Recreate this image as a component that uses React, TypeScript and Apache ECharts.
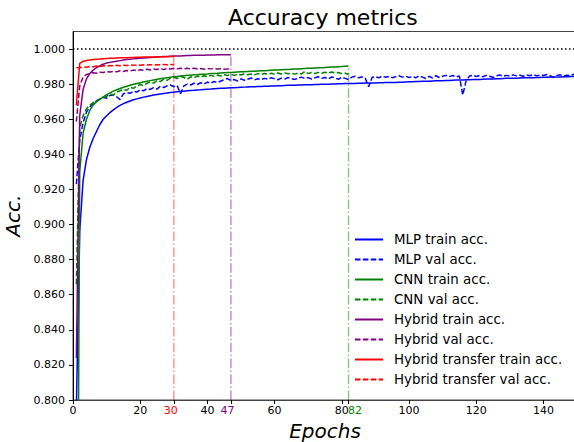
import React, { useEffect, useRef } from "react";
import * as echarts from "echarts";

const mlpTrain = [
  0.795, 0.896, 0.925, 0.937, 0.944, 0.949, 0.953, 0.957, 0.960, 0.962,
  0.9638, 0.9653, 0.9667, 0.9679, 0.9689, 0.9697, 0.9704, 0.9711, 0.9716, 0.9721,
  0.9726, 0.9730, 0.9734, 0.9738, 0.9741, 0.9744, 0.9747, 0.9749, 0.9752, 0.9754,
  0.9756, 0.9758, 0.9760, 0.9762, 0.9764, 0.9765, 0.9767, 0.9768, 0.9770, 0.9771,
  0.9772, 0.9774, 0.9775, 0.9776, 0.9777, 0.9778, 0.9779, 0.9780, 0.9781, 0.9782,
  0.9783, 0.9784, 0.9785, 0.9785, 0.9786, 0.9787, 0.9788, 0.9788, 0.9789, 0.9790,
  0.9791, 0.9791, 0.9792, 0.9793, 0.9793, 0.9794, 0.9795, 0.9795, 0.9796, 0.9797,
  0.9797, 0.9798, 0.9798, 0.9799, 0.9800, 0.9800, 0.9801, 0.9801, 0.9802, 0.9802,
  0.9803, 0.9803, 0.9804, 0.9804, 0.9805, 0.9805, 0.9806, 0.9806, 0.9807, 0.9807,
  0.9808, 0.9808, 0.9809, 0.9809, 0.9810, 0.9810, 0.9811, 0.9811, 0.9812, 0.9813,
  0.9814, 0.9815, 0.9815, 0.9816, 0.9817, 0.9817, 0.9818, 0.9819, 0.9819, 0.9820,
  0.9821, 0.9821, 0.9822, 0.9823, 0.9823, 0.9824, 0.9825, 0.9825, 0.9826, 0.9827,
  0.9827, 0.9828, 0.9829, 0.9829, 0.9830, 0.9831, 0.9831, 0.9832, 0.9833, 0.9833,
  0.9834, 0.9834, 0.9835, 0.9836, 0.9836, 0.9837, 0.9837, 0.9838, 0.9838, 0.9839,
  0.9839, 0.9840, 0.9840, 0.9841, 0.9841, 0.9842, 0.9842, 0.9843, 0.9843, 0.9844,
];

const mlpVal = [
  0.923, 0.948, 0.958, 0.964, 0.967, 0.969, 0.9705, 0.9713, 0.9725, 0.9720,
  0.9735, 0.9740, 0.9728, 0.9712, 0.9745, 0.9752, 0.9748, 0.9760, 0.9755, 0.9768,
  0.9762, 0.9775, 0.9770, 0.9780, 0.9772, 0.9788, 0.9781, 0.9790, 0.9795, 0.9785,
  0.9792, 0.9746, 0.9790, 0.9800, 0.9795, 0.9805, 0.9798, 0.9808, 0.9800, 0.9812,
  0.9805, 0.9815, 0.9808, 0.9818, 0.9825, 0.9832, 0.9820, 0.9826, 0.9818, 0.9830,
  0.9822, 0.9828, 0.9835, 0.9824, 0.9831, 0.9826, 0.9833, 0.9828, 0.9836, 0.9830,
  0.9825, 0.9834, 0.9829, 0.9838, 0.9831, 0.9827, 0.9835, 0.9840, 0.9832, 0.9837,
  0.9829, 0.9836, 0.9842, 0.9833, 0.9838, 0.9830, 0.9841, 0.9835, 0.9828, 0.9839,
  0.9833, 0.9826, 0.9840, 0.9845, 0.9836, 0.9841, 0.9833, 0.9785, 0.9838, 0.9843,
  0.9836, 0.9846, 0.9839, 0.9844, 0.9837, 0.9842, 0.9848, 0.9840, 0.9845, 0.9838,
  0.9843, 0.9836, 0.9847, 0.9840, 0.9832, 0.9844, 0.9835, 0.9848, 0.9838, 0.9845,
  0.9850, 0.9843, 0.9849, 0.9841, 0.9846, 0.9738, 0.9820, 0.9846, 0.9851, 0.9844,
  0.9849, 0.9842, 0.9850, 0.9845, 0.9838, 0.9848, 0.9852, 0.9845, 0.9850, 0.9846,
  0.9853, 0.9847, 0.9851, 0.9845, 0.9852, 0.9848, 0.9854, 0.9847, 0.9852, 0.9849,
  0.9855, 0.9848, 0.9838, 0.9850, 0.9853, 0.9846, 0.9851, 0.9848, 0.9856, 0.9852,
];

const cnnTrain = [
  0.55, 0.930, 0.952, 0.960, 0.965, 0.968, 0.970, 0.9715, 0.9728, 0.9740,
  0.9750, 0.9760, 0.9768, 0.9775, 0.9782, 0.9788, 0.9794, 0.9799, 0.9804, 0.9808,
  0.9812, 0.9816, 0.9820, 0.9824, 0.9828, 0.9831, 0.9834, 0.9837, 0.9840, 0.9842,
  0.9844, 0.9846, 0.9848, 0.9850, 0.9851, 0.9853, 0.9854, 0.9856, 0.9857, 0.9858,
  0.9860, 0.9861, 0.9862, 0.9864, 0.9865, 0.9866, 0.9867, 0.9868, 0.9869, 0.9870,
  0.9871, 0.9872, 0.9873, 0.9874, 0.9875, 0.9876, 0.9877, 0.9878, 0.9879, 0.9880,
  0.9881, 0.9882, 0.9883, 0.9884, 0.9885, 0.9886, 0.9887, 0.9888, 0.9889, 0.9890,
  0.9891, 0.9892, 0.9893, 0.9894, 0.9895, 0.9896, 0.9897, 0.9898, 0.9899, 0.9900,
  0.9902, 0.9904,
];

const cnnVal = [
  0.866, 0.955, 0.962, 0.966, 0.968, 0.9695, 0.9705, 0.9715, 0.9722, 0.9730,
  0.9745, 0.9738, 0.9755, 0.9762, 0.9770, 0.9765, 0.9782, 0.9776, 0.9790, 0.9798,
  0.9792, 0.9805, 0.9812, 0.9806, 0.9820, 0.9815, 0.9828, 0.9822, 0.9835, 0.9840,
  0.9832, 0.9845, 0.9838, 0.9828, 0.9842, 0.9836, 0.9846, 0.9840, 0.9848, 0.9843,
  0.9850, 0.9845, 0.9852, 0.9846, 0.9854, 0.9849, 0.9856, 0.9850, 0.9857, 0.9852,
  0.9859, 0.9853, 0.9858, 0.9853, 0.9860, 0.9855, 0.9861, 0.9856, 0.9862, 0.9857,
  0.9863, 0.9858, 0.9864, 0.9859, 0.9862, 0.9857, 0.9863, 0.9858, 0.9872, 0.9860,
  0.9866, 0.9861, 0.9867, 0.9862, 0.9868, 0.9863, 0.9869, 0.9864, 0.9866, 0.9860,
  0.9862, 0.9856,
];

const hybridTrain = [
  0.824, 0.962, 0.977, 0.983, 0.986, 0.988, 0.9895, 0.9905, 0.9913, 0.9920,
  0.9924, 0.9928, 0.9931, 0.9934, 0.9937, 0.9940, 0.9942, 0.9944, 0.9946, 0.9948,
  0.9949, 0.9951, 0.9952, 0.9953, 0.9955, 0.9956, 0.9957, 0.9958, 0.9959, 0.9960,
  0.9961, 0.9961, 0.9962, 0.9963, 0.9963, 0.9964, 0.9964, 0.9965, 0.9965, 0.9966,
  0.9966, 0.9966, 0.9967, 0.9967, 0.9967, 0.9968, 0.9968,
];

const hybridVal = [
  0.9586, 0.979, 0.984, 0.9855, 0.9860, 0.9865, 0.9862, 0.9868, 0.9866, 0.9871,
  0.9869, 0.9873, 0.9870, 0.9876, 0.9872, 0.9878, 0.9875, 0.9880, 0.9876, 0.9882,
  0.9879, 0.9885, 0.9881, 0.9886, 0.9883, 0.9888, 0.9884, 0.9889, 0.9886, 0.9890,
  0.9887, 0.9891, 0.9888, 0.9890, 0.9887, 0.9891, 0.9886, 0.9889, 0.9885, 0.9890,
  0.9887, 0.9889, 0.9886, 0.9888, 0.9885, 0.9887, 0.9884,
];

const transferTrain = [
  0.968, 0.9918, 0.9930, 0.9935, 0.9938, 0.9940, 0.9942, 0.9943, 0.9945, 0.9946,
  0.9947, 0.9948, 0.9949, 0.9950, 0.9950, 0.9951, 0.9952, 0.9952, 0.9953, 0.9953,
  0.9954, 0.9954, 0.9955, 0.9955, 0.9955, 0.9956, 0.9956, 0.9956, 0.9957, 0.9957,
];

const transferVal = [
  0.9893, 0.9895, 0.9898, 0.9896, 0.9901, 0.9899, 0.9903, 0.9901, 0.9905, 0.9903,
  0.9906, 0.9904, 0.9907, 0.9905, 0.9908, 0.9906, 0.9909, 0.9907, 0.9910, 0.9908,
  0.9910, 0.9909, 0.9911, 0.9909, 0.9911, 0.9910, 0.9912, 0.9910, 0.9912, 0.9911,
];

const xTicks = [0, 20, 30, 40, 47, 60, 80, 82, 100, 120, 140];
const yTicks = [0.8, 0.82, 0.84, 0.86, 0.88, 0.9, 0.92, 0.94, 0.96, 0.98, 1.0];
const X_MIN = 0;
const X_MAX = 150;
const Y_MIN = 0.8;
const Y_MAX = 1.01;
const REF_LEVEL = 1.0;

const FONT = "DejaVu Sans";

const toPts = (arr: number[]) => arr.map((v, i) => [i + 1, v]);

const solid = (name: string, color: string, data: number[]) => ({
  name,
  type: "line",
  data: toPts(data),
  symbol: "none",
  showSymbol: false,
  lineStyle: { color, width: 1.5, type: "solid" },
  itemStyle: { color },
  z: 3,
});

const dashed = (name: string, color: string, data: number[]) => ({
  name,
  type: "line",
  data: toPts(data),
  symbol: "none",
  showSymbol: false,
  lineStyle: { color, width: 1.5, type: [5.5, 2.4] },
  itemStyle: { color },
  z: 3,
});

const vline = (x: number, top: number, color: string) => ({
  type: "line",
  data: [
    [x, Y_MIN],
    [x, top],
  ],
  symbol: "none",
  silent: true,
  lineStyle: { color, width: 1.5, type: [9.6, 2.4, 1.5, 2.4] },
  z: 2,
});

export default function App() {
  const ref = useRef<HTMLDivElement>(null);
  useEffect(() => {
    if (!ref.current) return;
    const chart = echarts.init(ref.current, undefined, { renderer: "svg" });
    const legendNames = [
      "MLP train acc.",
      "MLP val acc.",
      "CNN train acc.",
      "CNN val acc.",
      "Hybrid train acc.",
      "Hybrid val acc.",
      "Hybrid transfer train acc.",
      "Hybrid transfer val acc.",
    ];
    const tEnd = transferTrain.length;
    const hEnd = hybridTrain.length;
    const cEnd = cnnTrain.length;
    chart.setOption({
      animation: false,
      backgroundColor: "#ffffff",
      title: {
        text: "Accuracy metrics",
        left: 228,
        top: 6,
        padding: 0,
        textStyle: { fontFamily: FONT, fontSize: 22, fontWeight: "normal", color: "#000" },
      },
      grid: {
        left: 73,
        right: -3,
        top: 31.5,
        bottom: 42,
        outerBoundsMode: "none",
        containLabel: false,
        show: true,
        borderColor: "#444",
        borderWidth: 1,
        backgroundColor: "transparent",
      },
      legend: {
        data: legendNames,
        orient: "vertical",
        left: 354,
        top: 233,
        itemWidth: 28,
        itemHeight: 13,
        itemGap: 7,
        padding: 0,
        itemStyle: { opacity: 0 },
        textStyle: { fontFamily: FONT, fontSize: 13.4, color: "#000", padding: [0, 0, 0, 6] },
      },
      xAxis: {
        type: "value",
        min: X_MIN,
        max: X_MAX,
        name: "Epochs",
        nameLocation: "middle",
        nameGap: 19,
        nameTextStyle: { fontFamily: FONT, fontSize: 20, fontStyle: "italic", color: "#000" },
        splitLine: { show: false },
        axisLine: { show: true, lineStyle: { color: "#444", width: 1.2 } },
        axisTick: { show: true, length: 4, customValues: xTicks, lineStyle: { color: "#000" } },
        axisLabel: {
          customValues: xTicks,
          margin: 5,
          fontFamily: FONT,
          fontSize: 11,
          color: "#000",
          formatter: (v: number) => {
            if (v === tEnd) return `{r|${v}}`;
            if (v === hEnd) return `{p|${v}}`;
            if (v === cEnd) return `{g|${v}}`;
            return `{n|${v}}`;
          },
          rich: {
            n: { fontFamily: FONT, fontSize: 11, color: "#000" },
            r: { fontFamily: FONT, fontSize: 11, color: "#ff0000", padding: [0, 6, 0, 0] },
            p: { fontFamily: FONT, fontSize: 11, color: "#800080", padding: [0, 7, 0, 0] },
            g: { fontFamily: FONT, fontSize: 11, color: "#008000", padding: [0, 0, 0, 13] },
          },
        },
      },
      yAxis: {
        type: "value",
        min: Y_MIN,
        max: Y_MAX,
        name: "Acc.",
        nameLocation: "middle",
        nameGap: 46,
        nameTextStyle: { fontFamily: FONT, fontSize: 20, fontStyle: "italic", color: "#000" },
        splitLine: { show: false },
        axisLine: { show: true, lineStyle: { color: "#000", width: 1 } },
        axisTick: { show: true, length: 4, customValues: yTicks, lineStyle: { color: "#000" } },
        axisLabel: {
          customValues: yTicks,
          margin: 8,
          fontFamily: FONT,
          fontSize: 11,
          color: "#000",
          formatter: (v: number) => v.toFixed(3),
        },
      },
      series: [
        {
          name: "ref",
          type: "line",
          data: [
            [X_MIN, REF_LEVEL],
            [X_MAX, REF_LEVEL],
          ],
          symbol: "none",
          silent: true,
          lineStyle: { color: "#000", width: 1.5, type: [1.5, 2.5] },
          z: 2,
        },
        solid("MLP train acc.", "#0000ff", mlpTrain),
        dashed("MLP val acc.", "#0000ff", mlpVal),
        solid("CNN train acc.", "#008000", cnnTrain),
        dashed("CNN val acc.", "#008000", cnnVal),
        solid("Hybrid train acc.", "#800080", hybridTrain),
        dashed("Hybrid val acc.", "#800080", hybridVal),
        solid("Hybrid transfer train acc.", "#ff0000", transferTrain),
        dashed("Hybrid transfer val acc.", "#ff0000", transferVal),
        vline(tEnd, transferTrain[tEnd - 1], "rgba(255,0,0,0.42)"),
        vline(hEnd, hybridTrain[hEnd - 1], "rgba(128,0,128,0.45)"),
        vline(cEnd, cnnTrain[cEnd - 1], "rgba(0,128,0,0.45)"),
      ],
    });
    return () => chart.dispose();
  }, []);
  return (
    <div
      ref={ref}
      style={{ position: "absolute", left: 0, top: 0, width: 574, height: 442, background: "#fff" }}
    />
  );
}
